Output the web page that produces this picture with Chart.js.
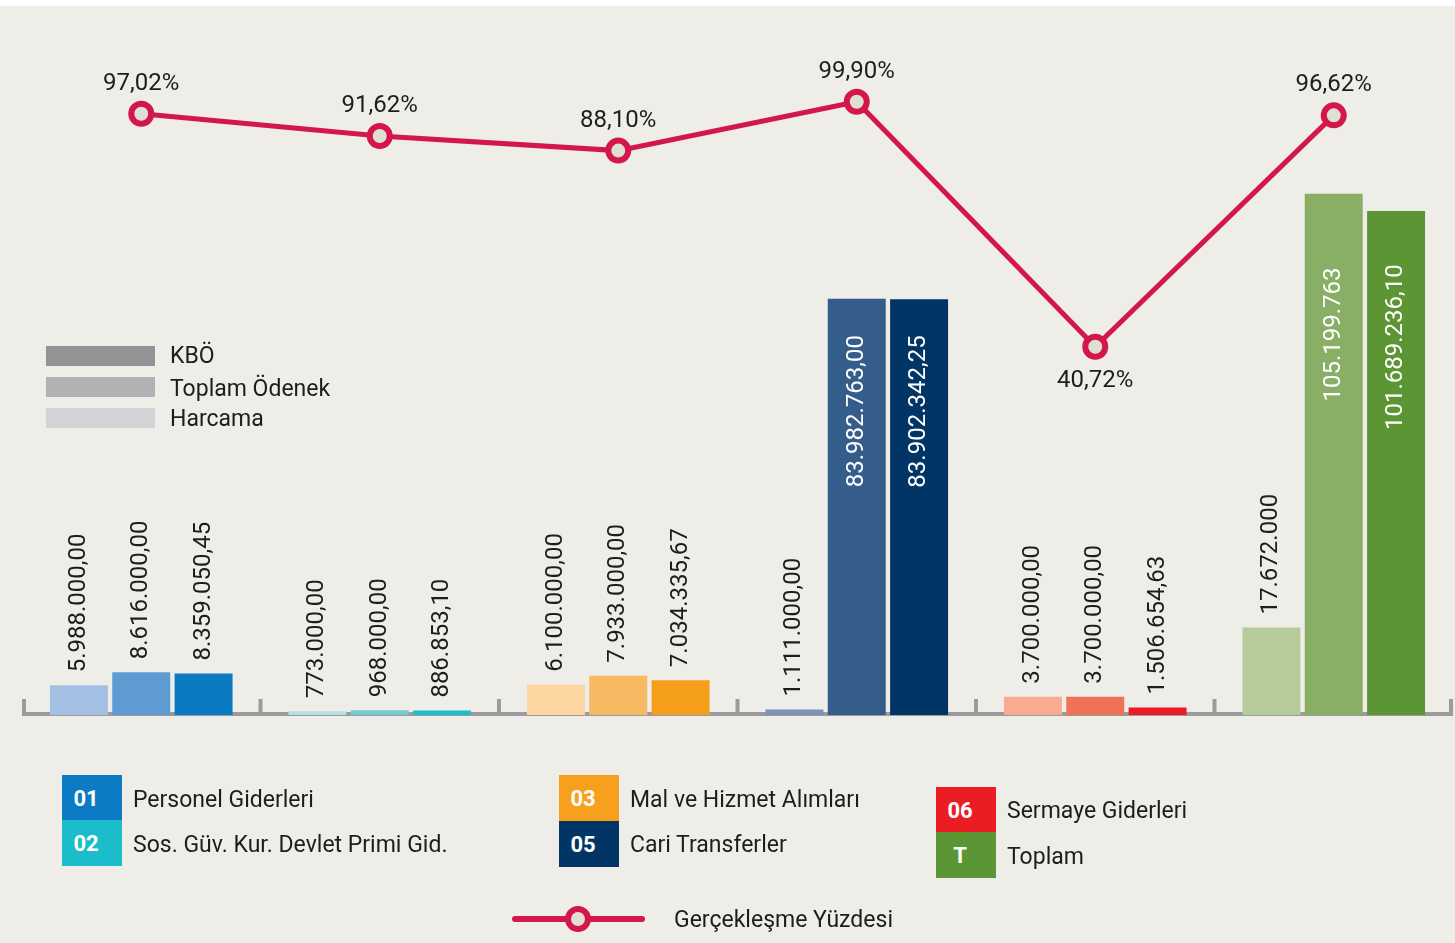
<!DOCTYPE html>
<html><head><meta charset="utf-8">
<script src="https://cdn.jsdelivr.net/npm/chart.js@4.4.1/dist/chart.umd.min.js"></script>
<style>
html,body{margin:0;padding:0;background:#eeede8;}
#wrap{position:relative;width:1455px;height:943px;background:#eeede8;overflow:hidden;font-family:Roboto,"Noto Sans",sans-serif;color:#1d1d1b;}
#topband{position:absolute;left:0;top:0;width:1455px;height:6px;background:#fff;}
canvas{position:absolute;left:0;top:0;}
.t{position:absolute;font-size:23px;line-height:1;white-space:nowrap;transform:translateY(-50%);}
.sw{position:absolute;}
.box{position:absolute;width:60px;height:46px;color:#fff;font-weight:700;font-size:22px;display:flex;align-items:center;justify-content:center;box-sizing:border-box;padding-right:12px;}
</style></head>
<body><div id="wrap">
<canvas id="c" width="1455" height="943"></canvas>
<div id="topband"></div>
<!-- series legend -->
<div class="sw" style="left:46px;top:346px;width:109px;height:20px;background:#939396"></div>
<div class="sw" style="left:46px;top:377px;width:109px;height:20px;background:#b1b2b4"></div>
<div class="sw" style="left:46px;top:408px;width:109px;height:20px;background:#d3d4d6"></div>
<div class="t" id="s0" style="left:170px;top:355px"></div>
<div class="t" id="s1" style="left:170px;top:388px"></div>
<div class="t" id="s2" style="left:170px;top:418px"></div>
<!-- category legend -->
<div class="box" id="b0" style="left:62px;top:775px;background:#0a7bc4"></div>
<div class="box" id="b1" style="left:62px;top:820px;background:#1cbdca"></div>
<div class="box" id="b2" style="left:559px;top:775px;background:#f6a01e"></div>
<div class="box" id="b3" style="left:559px;top:821px;background:#013566"></div>
<div class="box" id="b4" style="left:936px;top:787px;background:#ec1c24"></div>
<div class="box" id="b5" style="left:936px;top:832px;background:#5c9533"></div>
<div class="t" id="l0" style="left:133px;top:799px"></div>
<div class="t" id="l1" style="left:133px;top:844px"></div>
<div class="t" id="l2" style="left:630px;top:799px"></div>
<div class="t" id="l3" style="left:630px;top:844px"></div>
<div class="t" id="l4" style="left:1007px;top:810px"></div>
<div class="t" id="l5" style="left:1007px;top:856px"></div>
<!-- line legend -->
<div class="sw" style="left:512px;top:916px;width:133px;height:6px;background:#d3174a;border-radius:3px"></div>
<div class="sw" style="left:565px;top:906px;width:14px;height:14px;border:6px solid #d3174a;border-radius:50%;background:#e0dfd6"></div>
<div class="t" id="lineLbl" style="left:674px;top:919px"></div>
</div>
<script>
// ---- data ----
const categories = ["Personel Giderleri","Sos. Güv. Kur. Devlet Primi Gid.","Mal ve Hizmet Alımları","Cari Transferler","Sermaye Giderleri","Toplam"];
const codes = ["01","02","03","05","06","T"];
const seriesNames = ["KBÖ","Toplam Ödenek","Harcama"];
const kbo = [5988000, 773000, 6100000, 1111000, 3700000, 17672000];
const toplamOdenek = [8616000, 968000, 7933000, 83982763, 3700000, 105199763];
const harcama = [8359050.45, 886853.10, 7034335.67, 83902342.25, 1506654.63, 101689236.10];
const kboLabels = ["5.988.000,00","773.000,00","6.100.000,00","1.111.000,00","3.700.000,00","17.672.000"];
const odenekLabels = ["8.616.000,00","968.000,00","7.933.000,00","83.982.763,00","3.700.000,00","105.199.763"];
const harcamaLabels = ["8.359.050,45","886.853,10","7.034.335,67","83.902.342,25","1.506.654,63","101.689.236,10"];
const percent = [97.02, 91.62, 88.10, 99.90, 40.72, 96.62];
const percentLabels = ["97,02%","91,62%","88,10%","99,90%","40,72%","96,62%"];
const lineName = "Gerçekleşme Yüzdesi";
const kboColors = ["#a3bfe4","#b3e0e5","#fdd5a1","#7b93b8","#f8ab90","#b5cb9a"];
const odenekColors = ["#5f9bd3","#76cbd3","#f8b963","#355d8b","#f07155","#89ae65"];
const harcamaColors = ["#0a7ac3","#1bbdc9","#f59e1c","#013566","#ec1c24","#5c9533"];

// legend texts
seriesNames.forEach((s,i)=>document.getElementById('s'+i).textContent=s);
categories.forEach((c,i)=>{document.getElementById('l'+i).textContent=c;document.getElementById('b'+i).textContent=codes[i];});
document.getElementById('lineLbl').textContent=lineName;

const FONT = 'Roboto, "Noto Sans", sans-serif';
const barLabelSets = [kboLabels, odenekLabels, harcamaLabels];

const axisPlugin = {
  id:'axisPlugin',
  beforeDatasetsDraw(chart){
    const ctx=chart.ctx, a=chart.chartArea, x=chart.scales.x;
    const y=a.bottom-1;
    ctx.save();
    ctx.strokeStyle='#9b9a9f';
    ctx.lineWidth=4;
    ctx.beginPath();ctx.moveTo(a.left,y);ctx.lineTo(a.right,y);ctx.stroke();
    const n=categories.length;
    const step=(x.getPixelForValue(1)-x.getPixelForValue(0));
    for(let i=0;i<=n;i++){
      const px=Math.min(Math.max(x.getPixelForValue(0)-step/2+i*step, a.left+2), a.right-2);
      ctx.beginPath();ctx.moveTo(px,y+2);ctx.lineTo(px,y-15);ctx.stroke();
    }
    ctx.restore();
  }
};
const labelPlugin = {
  id:'labelPlugin',
  afterDatasetsDraw(chart){
    const ctx=chart.ctx;
    ctx.save();
    ctx.font='24px '+FONT;
    for(let d=0; d<3; d++){
      const meta=chart.getDatasetMeta(d);
      meta.data.forEach((bar,i)=>{
        const txt=barLabelSets[d][i];
        const h=bar.base-bar.y;
        ctx.save();
        if(h>200){
          ctx.translate(bar.x, bar.y+0.27*h);
          ctx.rotate(-Math.PI/2);
          ctx.textAlign='center';ctx.textBaseline='middle';
          ctx.fillStyle='#ffffff';
        } else {
          ctx.translate(bar.x, bar.y-13);
          ctx.rotate(-Math.PI/2);
          ctx.textAlign='left';ctx.textBaseline='middle';
          ctx.fillStyle='#1d1d1b';
        }
        ctx.fillText(txt,0,0);
        ctx.restore();
      });
    }
    const lm=chart.getDatasetMeta(3);
    ctx.fillStyle='#1d1d1b';ctx.textAlign='center';ctx.textBaseline='middle';
    lm.data.forEach((p,i)=>{
      const below = percent[i] < 60;
      ctx.fillText(percentLabels[i], p.x, below ? p.y+34 : p.y-30);
    });
    ctx.restore();
  }
};

new Chart(document.getElementById('c'),{
  data:{
    labels:categories,
    datasets:[
      {type:'bar',label:seriesNames[0],data:kbo,backgroundColor:kboColors,yAxisID:'y',order:1,barPercentage:0.93,categoryPercentage:0.784},
      {type:'bar',label:seriesNames[1],data:toplamOdenek,backgroundColor:odenekColors,yAxisID:'y',order:1,barPercentage:0.93,categoryPercentage:0.784},
      {type:'bar',label:seriesNames[2],data:harcama,backgroundColor:harcamaColors,yAxisID:'y',order:1,barPercentage:0.93,categoryPercentage:0.784},
      {type:'line',label:lineName,data:percent,yAxisID:'y1',order:0,borderColor:'#d3174a',borderWidth:5,
       pointRadius:10,pointBorderWidth:6,pointBackgroundColor:'#e0dfd6',pointBorderColor:'#d3174a',tension:0}
    ]
  },
  options:{
    responsive:false,animation:false,
    layout:{autoPadding:false,padding:{left:22,right:2,top:50,bottom:228}},
    plugins:{legend:{display:false},tooltip:{enabled:false}},
    scales:{
      x:{display:false},
      y:{display:false,min:0,max:134.2e6},
      y1:{display:false,min:-48.2,max:112.4}
    }
  },
  plugins:[axisPlugin,labelPlugin]
});
</script>
</body></html>
